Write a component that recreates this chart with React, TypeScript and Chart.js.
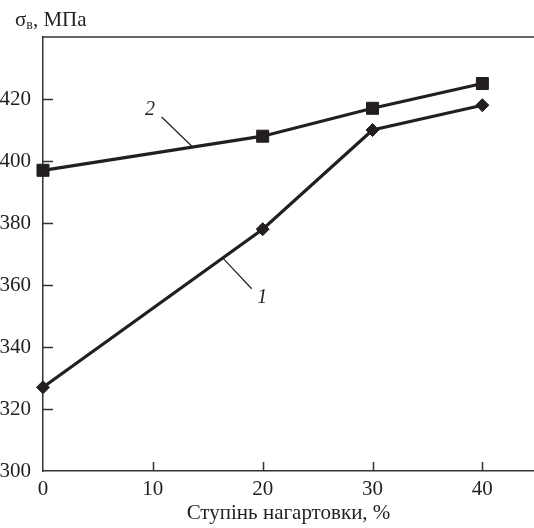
import React, { useEffect, useRef } from 'react';
import { Chart, registerables } from 'chart.js';

Chart.register(...registerables);

// ---- data ----
const strainPct = [0, 20, 30, 40];
const strengthCurve1 = [327, 378, 410, 418];
const strengthCurve2 = [397, 408, 417, 425];
const xTickValues = [10, 20, 30, 40];
const yTickValues = [320, 340, 360, 380, 400, 420];
const xTitle = 'Ступінь нагартовки, %';
const yTitleMain = 'σ';
const yTitleSub = 'в';
const yTitleRest = ', МПа';
const curveNames = ['1', '2'];
// annotation anchors in data units: [labelX, labelY, leaderFromX, leaderFromY, leaderToX, leaderToY]
const curve1Note = [19.95, 355.9, 16.4, 368.6, 19.0, 358.8];
const curve2Note = [9.75, 416.6, 10.8, 414.2, 13.6, 404.6];

const INK = '#231f20';
const SERIF = "'Liberation Serif', 'Times New Roman', serif";

const decor = {
  id: 'decor',
  afterDraw(chart: any) {
    const { ctx, chartArea, scales } = chart;
    const xs = scales.x;
    const ys = scales.y;
    ctx.save();
    ctx.strokeStyle = '#333';
    ctx.lineWidth = 1.5;
    // top frame
    ctx.beginPath();
    ctx.moveTo(chartArea.left, chartArea.top);
    ctx.lineTo(chartArea.right + 2, chartArea.top);
    ctx.stroke();
    // inward ticks
    ctx.beginPath();
    for (const v of yTickValues) {
      const y = Math.round(ys.getPixelForValue(v)) + 0.5;
      ctx.moveTo(chartArea.left, y);
      ctx.lineTo(chartArea.left + 10, y);
    }
    for (const v of xTickValues) {
      const x = Math.round(xs.getPixelForValue(v)) + 0.5;
      ctx.moveTo(x, chartArea.bottom);
      ctx.lineTo(x, chartArea.bottom - 9);
    }
    ctx.stroke();

    // leaders + labels
    const notes = [curve1Note, curve2Note];
    ctx.strokeStyle = INK;
    ctx.lineWidth = 1.2;
    ctx.fillStyle = INK;
    ctx.font = `italic 20px ${SERIF}`;
    ctx.textAlign = 'center';
    ctx.textBaseline = 'middle';
    notes.forEach((n, i) => {
      ctx.beginPath();
      ctx.moveTo(xs.getPixelForValue(n[2]), ys.getPixelForValue(n[3]));
      ctx.lineTo(xs.getPixelForValue(n[4]), ys.getPixelForValue(n[5]));
      ctx.stroke();
      ctx.fillText(curveNames[i], xs.getPixelForValue(n[0]), ys.getPixelForValue(n[1]));
    });

    // y-axis title
    ctx.textAlign = 'left';
    ctx.textBaseline = 'alphabetic';
    ctx.font = `21px ${SERIF}`;
    let x = 15;
    const base = 26;
    ctx.fillText(yTitleMain, x, base);
    x += ctx.measureText(yTitleMain).width;
    ctx.font = `14px ${SERIF}`;
    ctx.fillText(yTitleSub, x, base + 3);
    x += ctx.measureText(yTitleSub).width;
    ctx.font = `21px ${SERIF}`;
    ctx.fillText(yTitleRest, x, base);
    ctx.restore();
  },
};

export default function App() {
  const ref = useRef<HTMLCanvasElement>(null);
  useEffect(() => {
    if (!ref.current) return;
    const chart = new Chart(ref.current, {
      type: 'line',
      data: {
        datasets: [
          {
            label: curveNames[0],
            data: strainPct.map((x, i) => ({ x, y: strengthCurve1[i] })),
            borderColor: INK,
            backgroundColor: INK,
            borderWidth: 3.2,
            pointStyle: 'rectRot',
            pointRadius: 6.5,
            pointBorderWidth: 1,
            tension: 0,
            clip: false,
          },
          {
            label: curveNames[1],
            data: strainPct.map((x, i) => ({ x, y: strengthCurve2[i] })),
            borderColor: INK,
            backgroundColor: INK,
            borderWidth: 3.2,
            pointStyle: 'rect',
            pointRadius: 8.5,
            pointBorderWidth: 1,
            tension: 0,
            clip: false,
          },
        ],
      },
      options: {
        animation: false,
        responsive: false,
        layout: { autoPadding: false, padding: { top: 37, right: 0, left: 0, bottom: 0 } },
        plugins: { legend: { display: false }, tooltip: { enabled: false } },
        scales: {
          x: {
            type: 'linear',
            min: 0,
            max: 44.7,
            afterFit: (s: any) => { s.height = 57; s.paddingLeft = 0; s.paddingRight = 0; },
            grid: { display: false, drawTicks: false },
            border: { display: true, color: '#333', width: 1.5 },
            ticks: {
              stepSize: 10,
              includeBounds: false,
              padding: 5.5,
              color: INK,
              font: { family: SERIF, size: 21 },
              maxRotation: 0,
            },
            title: {
              display: true,
              text: xTitle,
              color: INK,
              font: { family: SERIF, size: 21 },
              padding: { top: 0, bottom: 2 },
            },
          },
          y: {
            type: 'linear',
            min: 300,
            max: 440,
            afterFit: (s: any) => { s.width = 43; s.paddingTop = 0; s.paddingBottom = 0; },
            grid: { display: false, drawTicks: false },
            border: { display: true, color: '#333', width: 1.5 },
            ticks: {
              stepSize: 20,
              padding: 12,
              color: INK,
              font: { family: SERIF, size: 21 },
              callback: (v: any) => (v === 440 ? '' : String(v)),
            },
          },
        },
      },
      plugins: [decor],
    });
    return () => chart.destroy();
  }, []);
  return (
    <div style={{ position: 'absolute', left: 0, top: 0, width: 534, height: 528 }}>
      <canvas ref={ref} width={534} height={528} style={{ width: 534, height: 528 }} />
    </div>
  );
}
